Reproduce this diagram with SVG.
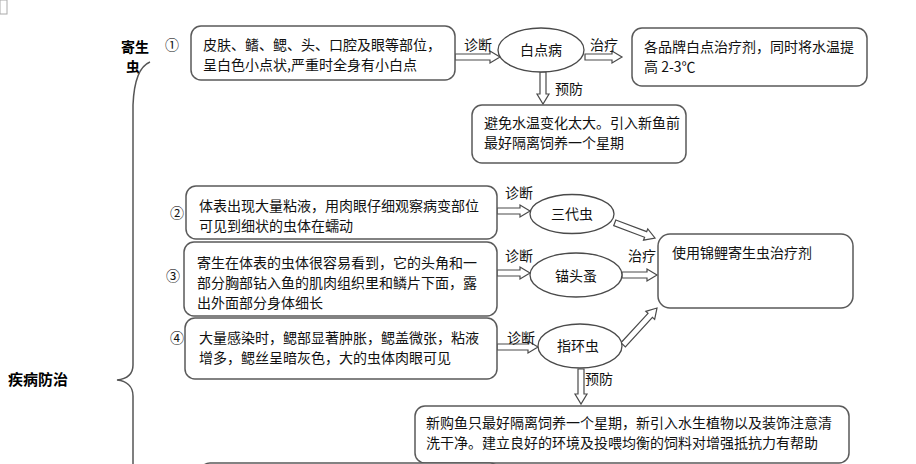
<svg xmlns="http://www.w3.org/2000/svg" width="916" height="464" viewBox="0 0 916 464">
<style>
.box{fill:#fff;stroke:#5a5a5a;stroke-width:1.5}
.ell{fill:#fff;stroke:#4a4a4a;stroke-width:1.3}
.arr{fill:#fff;stroke:#4a4a4a;stroke-width:1.2;stroke-linejoin:miter}
.t{font-family:"Noto Sans CJK SC","Noto Sans",sans-serif;font-size:14px;fill:#111}
.b{font-family:"Noto Sans CJK SC","Noto Sans",sans-serif;font-size:15px;font-weight:bold;fill:#000}
.bs{font-size:14px}
.m{text-anchor:middle}
.brace{fill:none;stroke:#555;stroke-width:1.5}
</style>
<rect x="0" y="0" width="7" height="14" fill="#fff" stroke="#aaa" stroke-width="1"/>
<g id="labels-left">
<text class="b bs m" x="135" y="52">寄生</text>
<text class="b bs m" x="133" y="72">虫</text>
<text class="b" x="8" y="385">疾病防治</text>
<path class="brace" d="M150,62 C140,66 134,80 133,105 L133,365 C133,375 126,379 117,380 C126,381 133,386 133,396 L133,470"/>
<text class="t m" x="172" y="50">①</text>
<text class="t m" x="177" y="218">②</text>
<text class="t m" x="173" y="281">③</text>
<text class="t m" x="177" y="343">④</text>
</g>
<g id="connectors">
<polygon class="arr" points="455,54 490,54 490,51 500,57 490,63 490,60 455,60"/>
<polygon class="arr" points="585,54 612,54 612,51 622,57 612,63 612,60 585,60"/>
<polygon class="arr" points="540,72 540,94 537,94 543,104 549,94 546,94 546,72"/>
<polygon class="arr" points="497,208 520,208 520,205 530,211 520,217 520,214 497,214"/>
<polygon class="arr" points="497,270 520,270 520,267 530,273 520,279 520,276 497,276"/>
<polygon class="arr" points="622,272 647,272 647,269 657,275 647,281 647,278 622,278"/>
<polygon class="arr" points="497,344 528,344 528,341 538,347 528,353 528,350 497,350"/>
<polygon class="arr" points="578,369 578,394 575,394 581,404 587,394 584,394 584,369"/>
<polygon class="arr" transform="translate(655,238) rotate(20.6)" points="-43,-3 -10,-3 -10,-6 0,0 -10,6 -10,3 -43,3"/>
<polygon class="arr" transform="translate(657,308) rotate(-47.4)" points="-50,-3 -10,-3 -10,-6 0,0 -10,6 -10,3 -50,3"/>
<text class="t" x="464" y="50">诊断</text>
<text class="t" x="590" y="50">治疗</text>
<text class="t" x="555" y="94">预防</text>
<text class="t" x="505" y="198">诊断</text>
<text class="t" x="505" y="261">诊断</text>
<text class="t" x="628" y="261">治疗</text>
<text class="t" x="507" y="343">诊断</text>
<text class="t" x="585" y="384">预防</text>
</g>
<g id="n1">
<rect class="box" x="191" y="26" width="264" height="54" rx="10"/>
<text class="t" x="203" y="50">皮肤、鳍、鳃、头、口腔及眼等部位，</text>
<text class="t" x="203" y="70">呈白色小点状,严重时全身有小白点</text>
</g>
<g id="n-baidian">
<ellipse class="ell" cx="541" cy="50" rx="43" ry="22"/>
<text class="t m" x="541" y="55">白点病</text>
</g>
<g id="n-treat1">
<rect class="box" x="632" y="28" width="235" height="58" rx="10"/>
<text class="t" x="644" y="52">各品牌白点治疗剂，同时将水温提</text>
<text class="t" x="644" y="72">高 2-3℃</text>
</g>
<g id="n-prev1">
<rect class="box" x="472" y="105" width="214" height="58" rx="10"/>
<text class="t" x="484" y="128">避免水温变化太大。引入新鱼前</text>
<text class="t" x="484" y="148">最好隔离饲养一个星期</text>
</g>
<g id="n2">
<rect class="box" x="186" y="186" width="311" height="53" rx="10"/>
<text class="t" x="199" y="211">体表出现大量粘液，用肉眼仔细观察病变部位</text>
<text class="t" x="199" y="231">可见到细状的虫体在蠕动</text>
</g>
<g id="n3">
<rect class="box" x="184" y="242" width="313" height="74" rx="10"/>
<text class="t" x="197" y="268">寄生在体表的虫体很容易看到，它的头角和一</text>
<text class="t" x="197" y="288">部分胸部钻入鱼的肌肉组织里和鳞片下面，露</text>
<text class="t" x="197" y="308">出外面部分身体细长</text>
</g>
<g id="n4">
<rect class="box" x="185" y="318" width="312" height="61" rx="10"/>
<text class="t" x="199" y="343">大量感染时，鳃部显著肿胀，鳃盖微张，粘液</text>
<text class="t" x="199" y="363">增多，鳃丝呈暗灰色，大的虫体肉眼可见</text>
</g>
<g id="n-sandai">
<ellipse class="ell" cx="572" cy="214" rx="42" ry="19.5"/>
<text class="t m" x="572" y="219">三代虫</text>
</g>
<g id="n-maotou">
<ellipse class="ell" cx="576" cy="275" rx="46" ry="22"/>
<text class="t m" x="576" y="281">锚头蚤</text>
</g>
<g id="n-zhihuan">
<ellipse class="ell" cx="580" cy="346" rx="42" ry="22"/>
<text class="t m" x="578" y="351">指环虫</text>
</g>
<g id="n-treat2">
<rect class="box" x="658" y="234" width="195" height="74" rx="12"/>
<text class="t" x="672" y="258">使用锦鲤寄生虫治疗剂</text>
</g>
<g id="n-prev2">
<rect class="box" x="415" y="406" width="434" height="57" rx="10"/>
<text class="t" x="426" y="428">新购鱼只最好隔离饲养一个星期，新引入水生植物以及装饰注意清</text>
<text class="t" x="426" y="448">洗干净。建立良好的环境及投喂均衡的饲料对增强抵抗力有帮助</text>
</g>
<g id="n-bottom">
<rect class="box" x="200" y="463" width="300" height="40" rx="10"/>
</g>
</svg>
